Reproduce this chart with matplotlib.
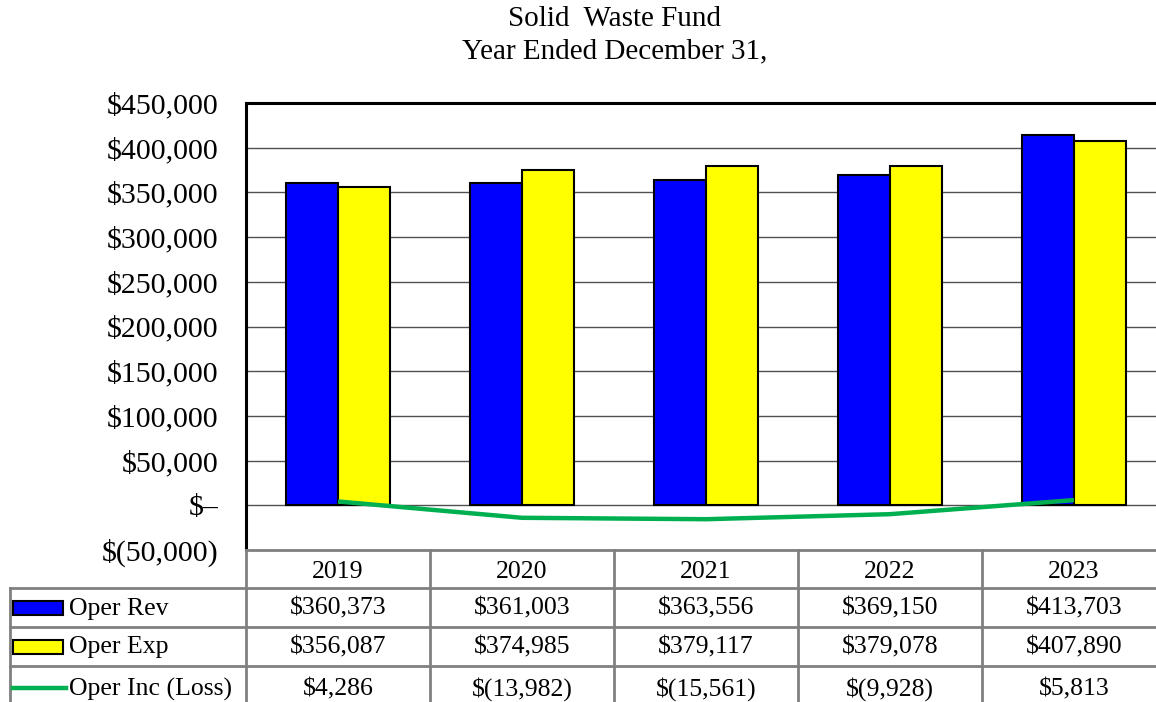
import matplotlib.pyplot as plt
from matplotlib.patches import Rectangle
from matplotlib.lines import Line2D

years = ['2019', '2020', '2021', '2022', '2023']
oper_rev = [360373, 361003, 363556, 369150, 413703]
oper_exp = [356087, 374985, 379117, 379078, 407890]
oper_inc = [4286, -13982, -15561, -9928, 5813]
row_labels = ['Oper Rev', 'Oper Exp', 'Oper Inc (Loss)']
y_ticks = [-50000, 0, 50000, 100000, 150000, 200000, 250000, 300000, 350000, 400000, 450000]

BLUE = '#0000FF'
YELLOW = '#FFFF00'
GREEN = '#00B050'
GRID = '#808080'


def money(v):
    if v == 0:
        return '$\u2013'
    if v < 0:
        return '$({:,})'.format(-v)
    return '${:,}'.format(v)


plt.rcParams['font.family'] = ['Liberation Serif', 'DejaVu Serif']

W, H = 1156, 702
fig = plt.figure(figsize=(W / 100, H / 100), dpi=100)

# plot area runs past the right edge of the picture, as in the original
left, right, top, bottom = 246, 1166, 103, 550
ax = fig.add_axes([left / W, 1 - bottom / H, (right - left) / W, (bottom - top) / H])

x = list(range(len(years)))
bw = 0.28
ax.bar([i - bw / 2 for i in x], oper_rev, bw, color=BLUE, edgecolor='black', linewidth=1.5, zorder=3)
ax.bar([i + bw / 2 for i in x], oper_exp, bw, color=YELLOW, edgecolor='black', linewidth=1.5, zorder=3)
ax.plot(x, oper_inc, color=GREEN, linewidth=3.2, zorder=4, solid_capstyle='butt')

ax.set_xlim(-0.5, len(years) - 0.5)
ax.set_ylim(-50000, 450000)
ax.set_yticks(y_ticks)
ax.set_yticklabels([money(v) for v in y_ticks], fontsize=21.5)
ax.set_xticks([])
ax.tick_params(axis='y', length=0, pad=20)
ax.yaxis.grid(True, color='#505050', linewidth=1.0, zorder=0)
ax.set_axisbelow(True)
ax.spines['left'].set_linewidth(2.2)
ax.spines['top'].set_linewidth(2.2)
ax.spines['right'].set_visible(False)
ax.spines['bottom'].set_color(GRID)
ax.spines['bottom'].set_linewidth(2)

fig.text(615 / W, 1 - 19 / H, 'Solid  Waste Fund', ha='center', va='center', fontsize=21)
fig.text(615 / W, 1 - 51 / H, 'Year Ended December 31,', ha='center', va='center', fontsize=21)

# data table under the plot, same x scale as the chart
tax = fig.add_axes([left / W, 0, (right - left) / W, (H - bottom) / H])
tax.set_xlim(-0.5, len(years) - 0.5)
tax.set_ylim(H - bottom, 0)
tax.axis('off')

cat_px = (right - left) / len(years)
label_left = -0.5 - (left - 10) / cat_px
row_edges = [0, 38, 77, 116, 160]
lc = dict(color=GRID, linewidth=2, clip_on=False)

for yb in row_edges[1:4]:
    tax.plot([label_left, len(years) - 0.5], [yb, yb], **lc)
for i in range(len(years)):
    tax.plot([i - 0.5, i - 0.5], [0, row_edges[-1]], **lc)
tax.plot([label_left, label_left], [row_edges[1], row_edges[-1]], **lc)

for i, yr in enumerate(years):
    tax.text(i, (row_edges[0] + row_edges[1]) / 2 + 3, yr, ha='center', va='center', fontsize=18.5)

series = [oper_rev, oper_exp, oper_inc]
for r, vals in enumerate(series):
    yc = (row_edges[r + 1] + row_edges[r + 2]) / 2 + 1
    for i, v in enumerate(vals):
        tax.text(i, yc, money(v), ha='center', va='center', fontsize=18.5)

# row labels with legend keys
key_w = 50 / cat_px
key_x = label_left + 3 / cat_px
for r, name in enumerate(row_labels):
    yc = (row_edges[r + 1] + row_edges[r + 2]) / 2
    if r < 2:
        tax.add_patch(Rectangle((key_x, yc - 7), key_w, 14, facecolor=[BLUE, YELLOW][r],
                                edgecolor='black', linewidth=1.5, clip_on=False))
    else:
        tax.add_line(Line2D([key_x, key_x + key_w + 3 / cat_px], [yc, yc], color=GREEN,
                            linewidth=3.2, clip_on=False))
    tax.text(key_x + key_w + 6 / cat_px, yc + 1, name, ha='left', va='center', fontsize=18.5)

fig.savefig('out.png', dpi=100)
